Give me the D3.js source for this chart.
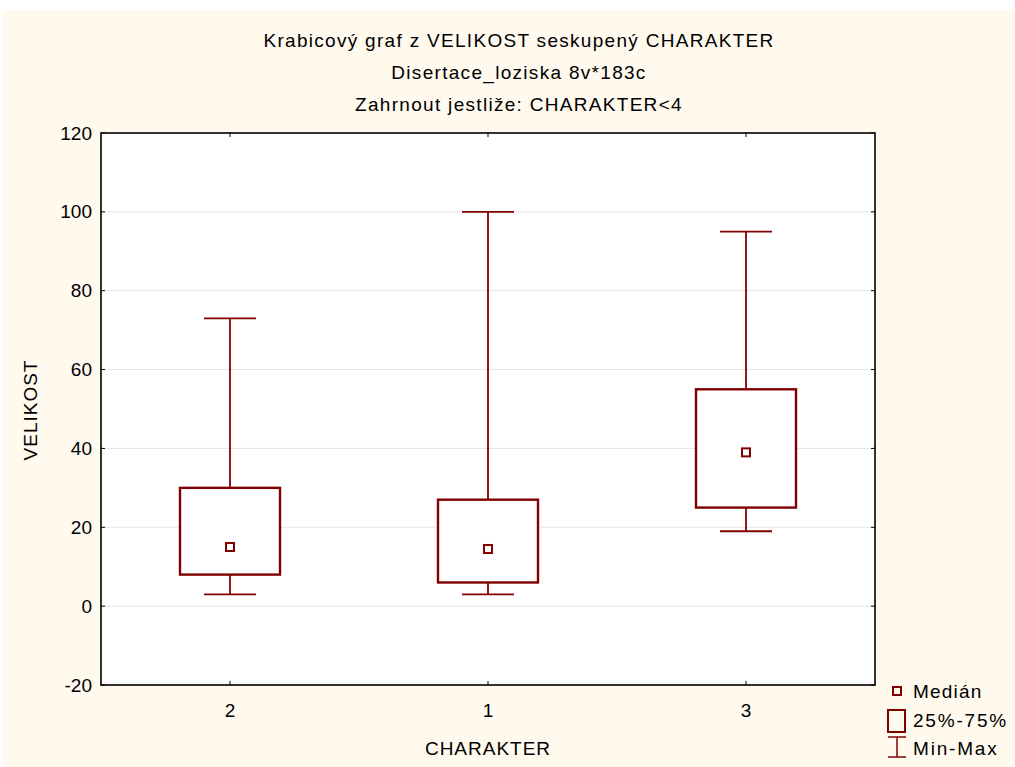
<!DOCTYPE html>
<html>
<head>
<meta charset="utf-8">
<script src="https://cdn.jsdelivr.net/npm/d3@7"></script>
<style>
  html, body { margin: 0; padding: 0; background: #ffffff; }
  svg { display: block; }
  text { font-family: "Liberation Sans", Arial, sans-serif; fill: #000; }
</style>
</head>
<body>
<svg id="chart" width="1015" height="767"></svg>
<script>
// Box plot of VELIKOST grouped by CHARAKTER
const categories = ["2", "1", "3"];
const minValues = [3, 3, 19];
const q1Values = [8, 6, 25];
const medianValues = [15, 14.5, 39];
const q3Values = [30, 27, 55];
const maxValues = [73, 100, 95];
const yTicks = [-20, 0, 20, 40, 60, 80, 100, 120];
const titleLines = [
  "Krabicový graf z VELIKOST seskupený CHARAKTER",
  "Disertace_loziska 8v*183c",
  "Zahrnout jestliže: CHARAKTER<4"
];
const legendLabels = ["Medián", "25%-75%", "Min-Max"];

const boxColor = "#800000";
const fontSize = 19;
const svg = d3.select("#chart");
const W = 1015, H = 767;
const plot = { left: 101, right: 875, top: 133, bottom: 685 };

// page background
svg.append("rect").attr("x", 3).attr("y", 10).attr("width", W - 3).attr("height", H - 10)
  .attr("fill", "#fff9ee");

// plot area
svg.append("rect").attr("x", plot.left).attr("y", plot.top)
  .attr("width", plot.right - plot.left).attr("height", plot.bottom - plot.top)
  .attr("fill", "#ffffff");

const x = d3.scaleBand().domain(categories).range([plot.left, plot.right]);
const y = d3.scaleLinear().domain([-20, 120]).range([plot.bottom, plot.top]);

// gridlines
svg.append("g").selectAll("line").data(yTicks.filter(t => t > -20 && t < 120)).join("line")
  .attr("x1", plot.left).attr("x2", plot.right)
  .attr("y1", d => y(d)).attr("y2", d => y(d))
  .attr("stroke", "#e4e4e4").attr("stroke-width", 1);

// axes
const yAxis = d3.axisLeft(y).tickValues(yTicks).tickFormat(d => String(d)).tickSize(0).tickPadding(9);
const gy = svg.append("g").attr("transform", `translate(${plot.left},0)`).call(yAxis);
gy.select(".domain").remove();
gy.selectAll("text").attr("font-size", fontSize).attr("font-family", "Liberation Sans, Arial, sans-serif").attr("fill", "#000");

const xAxis = d3.axisBottom(x).tickSize(0).tickPadding(19);
const gx = svg.append("g").attr("transform", `translate(0,${plot.bottom})`).call(xAxis);
gx.select(".domain").remove();
gx.selectAll("text").attr("font-size", fontSize).attr("font-family", "Liberation Sans, Arial, sans-serif").attr("fill", "#000");

// inward tick marks on all four sides
const tickG = svg.append("g").attr("stroke", "#000").attr("stroke-width", 1);
yTicks.forEach(t => {
  tickG.append("line").attr("x1", plot.left).attr("x2", plot.left + 4).attr("y1", y(t)).attr("y2", y(t));
  tickG.append("line").attr("x1", plot.right - 4).attr("x2", plot.right).attr("y1", y(t)).attr("y2", y(t));
});
categories.forEach(c => {
  const cx = x(c) + x.bandwidth() / 2;
  tickG.append("line").attr("x1", cx).attr("x2", cx).attr("y1", plot.bottom - 4).attr("y2", plot.bottom);
  tickG.append("line").attr("x1", cx).attr("x2", cx).attr("y1", plot.top).attr("y2", plot.top + 4);
});

// frame
svg.append("rect").attr("x", plot.left).attr("y", plot.top)
  .attr("width", plot.right - plot.left).attr("height", plot.bottom - plot.top)
  .attr("fill", "none").attr("stroke", "#000").attr("stroke-width", 1.6);

// boxes
const boxW = 100, capW = 52, medS = 8;
const data = categories.map((c, i) => ({
  c, min: minValues[i], q1: q1Values[i], med: medianValues[i], q3: q3Values[i], max: maxValues[i]
}));
const bg = svg.append("g");
data.forEach(d => {
  const cx = x(d.c) + x.bandwidth() / 2;
  // whiskers
  bg.append("line").attr("x1", cx).attr("x2", cx).attr("y1", y(d.max)).attr("y2", y(d.q3))
    .attr("stroke", boxColor).attr("stroke-width", 1.8);
  bg.append("line").attr("x1", cx).attr("x2", cx).attr("y1", y(d.q1)).attr("y2", y(d.min))
    .attr("stroke", boxColor).attr("stroke-width", 1.8);
  bg.append("line").attr("x1", cx - capW / 2).attr("x2", cx + capW / 2).attr("y1", y(d.max)).attr("y2", y(d.max))
    .attr("stroke", boxColor).attr("stroke-width", 1.8);
  bg.append("line").attr("x1", cx - capW / 2).attr("x2", cx + capW / 2).attr("y1", y(d.min)).attr("y2", y(d.min))
    .attr("stroke", boxColor).attr("stroke-width", 1.8);
  // box
  bg.append("rect").attr("x", cx - boxW / 2).attr("y", y(d.q3))
    .attr("width", boxW).attr("height", y(d.q1) - y(d.q3))
    .attr("fill", "#ffffff").attr("stroke", boxColor).attr("stroke-width", 2.4);
  // median marker
  bg.append("rect").attr("x", cx - medS / 2).attr("y", y(d.med) - medS / 2)
    .attr("width", medS).attr("height", medS)
    .attr("fill", "#ffffff").attr("stroke", boxColor).attr("stroke-width", 2);
});

// titles
titleLines.forEach((t, i) => {
  svg.append("text").attr("x", 519).attr("y", 47 + i * 32)
    .attr("text-anchor", "middle").attr("font-size", fontSize)
    .attr("letter-spacing", 1.3).text(t);
});

// axis titles
svg.append("text").attr("x", 488).attr("y", 755).attr("text-anchor", "middle")
  .attr("font-size", fontSize).attr("letter-spacing", 1).text("CHARAKTER");
svg.append("text").attr("transform", "translate(37,410) rotate(-90)")
  .attr("text-anchor", "middle").attr("font-size", fontSize).attr("letter-spacing", 1).text("VELIKOST");

// legend
const lg = svg.append("g");
lg.append("rect").attr("x", 893).attr("y", 687).attr("width", 8).attr("height", 8)
  .attr("fill", "none").attr("stroke", boxColor).attr("stroke-width", 2);
lg.append("rect").attr("x", 888).attr("y", 710).attr("width", 17).attr("height", 22)
  .attr("fill", "none").attr("stroke", boxColor).attr("stroke-width", 2);
lg.append("line").attr("x1", 897).attr("x2", 897).attr("y1", 737).attr("y2", 757)
  .attr("stroke", boxColor).attr("stroke-width", 1.5);
lg.append("line").attr("x1", 888).attr("x2", 906).attr("y1", 737).attr("y2", 737)
  .attr("stroke", boxColor).attr("stroke-width", 1.5);
lg.append("line").attr("x1", 888).attr("x2", 906).attr("y1", 757).attr("y2", 757)
  .attr("stroke", boxColor).attr("stroke-width", 1.5);
const legendSpacing = [1.2, 1.8, 1.8];
legendLabels.forEach((t, i) => {
  lg.append("text").attr("x", 913).attr("y", 698 + i * 28.5).attr("font-size", fontSize)
    .attr("letter-spacing", legendSpacing[i]).text(t);
});
</script>
</body>
</html>
